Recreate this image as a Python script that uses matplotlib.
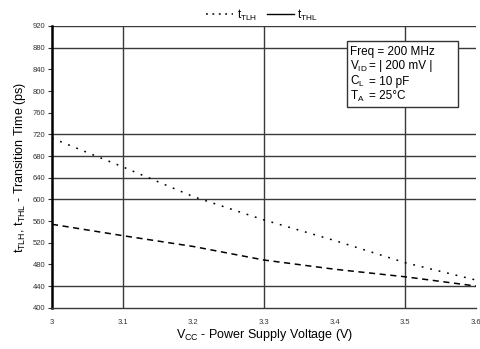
import matplotlib
matplotlib.use("Agg")
import matplotlib.pyplot as plt
from matplotlib.lines import Line2D
from matplotlib.patches import Rectangle

plt.rcParams['font.family'] = ['Liberation Sans', 'DejaVu Sans']
plt.rcParams['mathtext.fontset'] = 'custom'
plt.rcParams['mathtext.rm'] = 'Liberation Sans'
plt.rcParams['mathtext.it'] = 'Liberation Sans'

# Data
vcc = [3.0, 3.1, 3.2, 3.3, 3.4, 3.5, 3.6]
t_tlh = [713, 660, 605, 562, 524, 483, 451]
t_thl = [554, 533, 513, 488, 471, 457, 440]

x_ticks = [3.0, 3.1, 3.2, 3.3, 3.4, 3.5, 3.6]
x_tick_labels = ["3", "3.1", "3.2", "3.3", "3.4", "3.5", "3.6"]
y_ticks = [400, 440, 480, 520, 560, 600, 640, 680, 720, 760, 800, 840, 880, 920]
grid_y = [440, 600, 640, 680, 720, 880, 920]
grid_x = [3.1, 3.3, 3.5]

W, H = 480, 349
fig = plt.figure(figsize=(4.8, 3.49), dpi=100)
ax = fig.add_axes([52 / W, 1 - 307.7 / H, 424 / W, 281.7 / H])

gc = '#3a3a3a'
for gy in grid_y:
    ax.axhline(gy, color=gc, lw=1.0, zorder=1)
for gx in grid_x:
    ax.axvline(gx, color=gc, lw=1.0, zorder=1)

l1, = ax.plot(vcc, t_tlh, color='black', lw=1.1, linestyle=(0, (1.2, 4.5)), zorder=3)
l2, = ax.plot(vcc, t_thl, color='black', lw=1.1, linestyle=(0, (4, 3)), zorder=3)

ax.set_xlim(3.0, 3.6)
ax.set_ylim(400, 920)
ax.set_xticks(x_ticks)
ax.set_xticklabels(x_tick_labels)
ax.set_yticks(y_ticks)
ax.set_yticklabels([str(v) for v in y_ticks])
ax.tick_params(axis='y', labelsize=5.5, length=3, width=0.8, colors='#333333', pad=2)
ax.tick_params(axis='x', labelsize=5.5, length=0, colors='#333333', pad=8)

for s in ['top', 'right']:
    ax.spines[s].set_visible(False)
ax.spines['bottom'].set_color(gc)
ax.spines['bottom'].set_linewidth(1.0)
ax.spines['left'].set_color('black')
ax.spines['left'].set_linewidth(1.8)

ax.set_xlabel(r'V$_{\mathrm{CC}}$ - Power Supply Voltage (V)', fontsize=9, labelpad=1)
ax.set_ylabel(r't$_{\mathrm{TLH}}$, t$_{\mathrm{THL}}$ - Transition Time (ps)', fontsize=9, labelpad=3)

# Legend (top center)
legend_handles = [Line2D([0], [0], color='black', lw=1.1, linestyle=(0, (1.2, 3))),
                  Line2D([0], [0], color='black', lw=1.0, linestyle='-')]
fig.legend(legend_handles, [r't$_{\mathrm{TLH}}$', r't$_{\mathrm{THL}}$'],
           loc='center', bbox_to_anchor=(262 / W, 1 - 15 / H), ncol=2, frameon=False,
           fontsize=8.5, handlelength=2.3, handletextpad=0.3, columnspacing=0.8)

# Condition box
bx0 = (346.7 - 52) / 424
bx1 = (458.3 - 52) / 424
by1 = 1 - (40.7 - 26) / 281.7
by0 = 1 - (107.3 - 26) / 281.7
ax.add_patch(Rectangle((bx0, by0), bx1 - bx0, by1 - by0, transform=ax.transAxes,
                       facecolor='white', edgecolor='#333333', lw=1.0, zorder=5))
rows_y = [51.7, 66.0, 81.5, 96.0]
col1 = (349.5 - 52) / 424
col2 = (369 - 52) / 424
labels_left = ['Freq', r'V$_{\mathrm{ID}}$', r'C$_{\mathrm{L}}$', r'T$_{\mathrm{A}}$']
labels_right = ['= 200 MHz', '= | 200 mV |', '= 10 pF', '= 25°C']
for i, (ly, a, b) in enumerate(zip(rows_y, labels_left, labels_right)):
    yy = 1 - (ly - 26) / 281.7
    if i == 0:
        ax.text(col1, yy, 'Freq = 200 MHz', transform=ax.transAxes, fontsize=8.5,
                va='center', ha='left', zorder=6)
    else:
        ax.text(col1, yy, a, transform=ax.transAxes, fontsize=8.5, va='center', ha='left', zorder=6)
        ax.text(col2, yy, b, transform=ax.transAxes, fontsize=8.5, va='center', ha='left', zorder=6)

fig.savefig('out.png', dpi=100)
